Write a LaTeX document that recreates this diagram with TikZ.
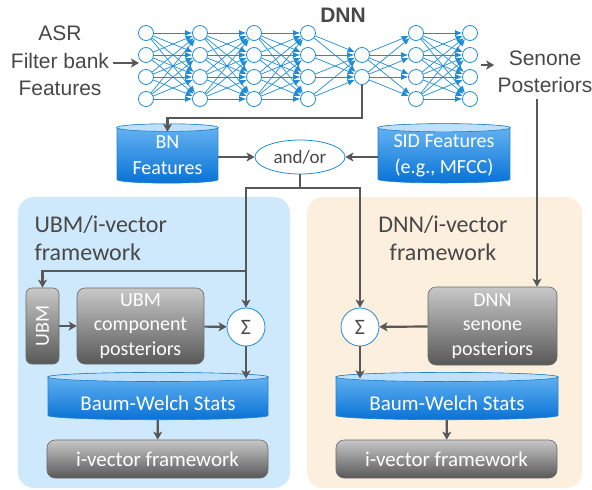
\documentclass[tikz,border=0pt]{standalone}
\usepackage{fontspec}
\setmainfont{Carlito}
\newfontfamily\helv{Liberation Sans}
\usepackage{xcolor}
\definecolor{netblue}{RGB}{30,140,215}
\definecolor{flowgray}{RGB}{88,88,88}
\definecolor{txtgray}{RGB}{72,72,72}
\definecolor{cyltop}{RGB}{190,224,250}
\definecolor{cylhi}{RGB}{105,182,243}
\definecolor{cyllo}{RGB}{8,114,214}
\definecolor{cylline}{RGB}{35,130,205}
\definecolor{boxhi}{RGB}{200,200,200}
\definecolor{boxlo}{RGB}{88,88,88}
\definecolor{boxline}{RGB}{105,105,105}
\definecolor{ubmpanel}{RGB}{206,233,251}
\definecolor{dnnpanel}{RGB}{253,239,222}
\usepackage{tikz}
\usetikzlibrary{shapes.geometric, arrows.meta, calc, positioning}

\tikzset{
	neuron/.style={circle, draw=netblue, fill=white, line width=0.8pt, minimum size=15pt, inner sep=0pt},
	synapse/.style={draw=netblue, line width=0.7pt, -{Latex[length=7pt,width=6pt]}},
	flow/.style={draw=flowgray, line width=2.2pt, -{Stealth[length=8pt,width=9pt,inset=2pt]}},
	link/.style={draw=flowgray, line width=2.2pt}
}
\tikzset{
	cyl/.style={cylinder, shape border rotate=90, aspect=#1, draw=cylline, line width=0.6pt,
		top color=cylhi, bottom color=cyllo, text=white, align=center, inner sep=0pt,
		font=\fontsize{20}{26}\selectfont, execute at begin node={\rule{0pt}{25pt}}},
	cylcap/.style={fill=cyltop, draw=cylline, line width=0.6pt},
	graybox/.style={rounded corners=8pt, draw=boxline, line width=0.6pt, top color=boxhi, bottom color=boxlo,
		text=white, align=center, inner sep=0pt, font=\fontsize{20}{24.5}\selectfont},
	sumnode/.style={circle, draw=netblue, fill=white, line width=0.8pt, minimum size=38pt, inner sep=0pt,
		text=txtgray, font=\fontsize{22}{22}\selectfont},
	plain/.style={text=txtgray, align=center}
}

\begin{document}
\begin{tikzpicture}[x=1pt, y=-1pt]
	\useasboundingbox (0,0) rectangle (592,490);

	% framework panels
	\fill[ubmpanel, rounded corners=16pt] (18,197) rectangle (290,488);
	\fill[dnnpanel, rounded corners=16pt] (307,197) rectangle (582,488);

	% DNN layers
	\foreach \c/\rl in {1/{1,2,3,4},2/{1,2,3,4},3/{1,2,3,4},4/{1,2,3,4},5/{2,3},6/{1,2,3,4},7/{1,2,3,4}}
		\foreach \r in \rl
			\node[neuron] (n\c-\r) at ({92+54*\c}, {11+22*\r}) {};
	\foreach \c/\d/\sl/\tl in {1/2/{1,2,3,4}/{1,2,3,4}, 2/3/{1,2,3,4}/{1,2,3,4}, 3/4/{1,2,3,4}/{1,2,3,4},
			4/5/{1,2,3,4}/{2,3}, 5/6/{2,3}/{1,2,3,4}, 6/7/{1,2,3,4}/{1,2,3,4}}
		\foreach \s in \sl
			\foreach \t in \tl
				\draw[synapse] (n\c-\s) -- (n\d-\t);

	\node[text=txtgray, font=\helv\bfseries\fontsize{21}{21}\selectfont] (dnn) at (343,15) {DNN};

	% inputs and outputs of the DNN
	\node[plain, font=\helv\fontsize{21}{27.5}\selectfont] (asr) at (60,61) {ASR\\Filter bank\\Features};
	\node[plain, font=\helv\fontsize{21}{27.5}\selectfont] (sen) at (545,72) {Senone\\Posteriors};
	\coordinate (netin) at (139,63);
	\coordinate (netout) at (481,65);
	\draw[flow] (asr.east |- netin) -- (netin);
	\draw[flow] (netout) -- (sen.west |- netout);

	% features
	\node[cyl=0.1, minimum width=101pt, minimum height=59pt] (bn) at (167.5,155.5) {BN\\Features};
	\node[cyl=0.075, minimum width=132pt, minimum height=59pt] (sid) at (444,155.5) {SID Features\\(e.g., MFCC)};
	\node[ellipse, draw=netblue, fill=white, line width=0.8pt, minimum width=90pt, minimum height=34pt,
		inner sep=0pt, text=txtgray, font=\fontsize{19}{19}\selectfont] (andor) at (300,157) {and/or};

	% UBM/i-vector framework
	\node[plain, anchor=west, align=left, font=\fontsize{24}{28}\selectfont] (ubmtitle) at (31,238) {UBM/i-vector\\framework};
	\node[graybox, rotate=90, rounded corners=6pt, minimum width=76pt, minimum height=33pt] (ubm) at (42.5,326) {UBM};
	\node[graybox, minimum width=127pt, minimum height=76pt] (ubmpost) at (140.5,326) {UBM\\component\\posteriors};
	\node[sumnode] (sigL) at (246,327) {Σ};
	\node[cyl=0.055, minimum width=220pt, minimum height=47pt, font=\fontsize{21}{21}\selectfont] (bwL) at (158,398.5) {Baum-Welch Stats};
	\node[graybox, minimum width=221pt, minimum height=38pt, font=\fontsize{21}{21}\selectfont] (ivL) at (157.5,459) {i-vector framework};

	% DNN/i-vector framework
	\node[plain, font=\fontsize{24}{28}\selectfont] (dnntitle) at (443,238) {DNN/i-vector\\framework};
	\node[graybox, minimum width=129pt, minimum height=78pt] (dnnpost) at (492.5,326) {DNN\\senone\\posteriors};
	\node[sumnode] (sigR) at (360,327) {Σ};
	\node[cyl=0.055, minimum width=222pt, minimum height=47pt, font=\fontsize{21}{21}\selectfont] (bwR) at (447,398.5) {Baum-Welch Stats};
	\node[graybox, minimum width=221pt, minimum height=38pt, font=\fontsize{21}{21}\selectfont] (ivR) at (446.5,459) {i-vector framework};

	% cylinder caps
	\foreach \cy in {bn,sid,bwL,bwR}
		\filldraw[cylcap] let \p1=(\cy.before top), \p2=(\cy.after top), \p3=(\cy.top) in
			($(\p1)!0.5!(\p2)$) ellipse ({abs(\x2-\x1)/2} and {abs(\y3-\y1)});

	% connectors
	\coordinate (bnbend) at (362,118);
	\coordinate (split) at (300,188);
	\coordinate (ubmtap) at (246,271);
	\coordinate (sentap) at (537,99);
	\draw[flow] (n5-3) -- (bnbend) -| ($(bn.top)+(0,8)$);
	\draw[flow] (bn.east |- andor) -- (andor);
	\draw[flow] (sid.west |- andor) -- (andor);
	\draw[link] (andor) -- (split);
	\draw[flow] (split) -| (sigL);
	\draw[flow] (split) -| (sigR);
	\draw[flow] (ubmtap) -| (ubm);
	\draw[flow] (ubm) -- (ubmpost);
	\draw[flow] (ubmpost) -- (sigL);
	\draw[flow] (sigL) -- ($(sigL |- bwL.top)+(0,6)$);
	\draw[flow] (bwL) -- (ivL);
	\draw[flow] (sentap) -- (sentap |- dnnpost.north);
	\draw[flow] (dnnpost) -- (sigR);
	\draw[flow] (sigR) -- ($(sigR |- bwR.top)+(0,6)$);
	\draw[flow] (bwR) -- (ivR);
\end{tikzpicture}
\end{document}
